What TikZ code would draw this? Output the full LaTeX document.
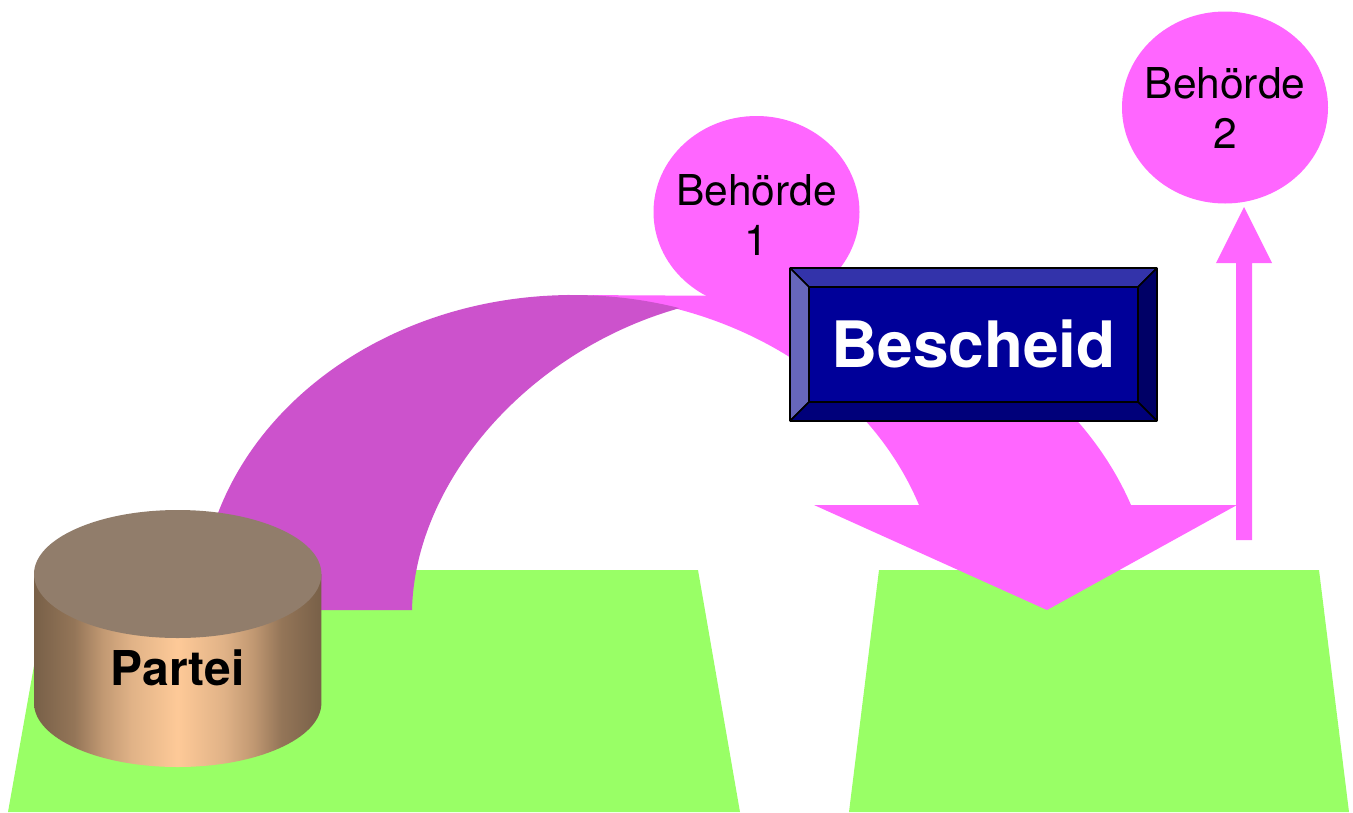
\documentclass[tikz,border=0pt]{standalone}
\usepackage{fontspec}
\setmainfont{TeX Gyre Heros}
\usetikzlibrary{shapes.geometric}
\definecolor{pinkf}{HTML}{FF66FF}
\definecolor{greenf}{HTML}{99FF66}
\definecolor{purplef}{HTML}{CC52CC}
\definecolor{boxmain}{HTML}{000099}
\definecolor{boxtop}{HTML}{3333AA}
\definecolor{boxleft}{HTML}{6666BB}
\definecolor{boxright}{HTML}{000066}
\definecolor{boxbottom}{HTML}{00007A}
\definecolor{cyltop}{HTML}{917D6B}
\pgfdeclarehorizontalshading{cylshade}{100bp}{
  rgb(0bp)=(0.47,0.376,0.282);
  rgb(25bp)=(0.47,0.376,0.282);
  rgb(32bp)=(0.58,0.46,0.345);
  rgb(37bp)=(0.76,0.60,0.45);
  rgb(42bp)=(0.88,0.70,0.53);
  rgb(50bp)=(0.995,0.79,0.595);
  rgb(58bp)=(0.88,0.70,0.53);
  rgb(63bp)=(0.76,0.60,0.45);
  rgb(68bp)=(0.58,0.46,0.345);
  rgb(75bp)=(0.47,0.376,0.282);
  rgb(100bp)=(0.47,0.376,0.282)}
\tikzset{
  ground/.style={fill=greenf,draw=none},
  flow/.style={fill=pinkf,draw=none},
  authority/.style={ellipse,fill=pinkf,draw=none,inner sep=0pt,minimum width=206pt,minimum height=192pt},
  authoritytext/.style={align=center,inner sep=0pt,font=\fontsize{42.5}{50}\selectfont},
  bevel/.style={draw=black,line width=1.6pt,line join=bevel},
}
\begin{document}
\begin{tikzpicture}[x=1pt,y=-1pt]
\useasboundingbox (0,0) rectangle (1353,812);
% ground
\fill[ground] (51,570) -- (698,570) -- (740,812) -- (8,812) -- cycle;
\fill[ground] (879,570) -- (1319,570) -- (1349,812) -- (849,812) -- cycle;
% pink curved arrow
\fill[flow] (573,295) -- (760,296) -- (900,320) -- (1078,421.7)
  .. controls (1100,447) and (1118,475) .. (1131,505)
  -- (1237,505) -- (1047,610) -- (814,505) -- (919,505)
  arc[start angle=-19.47,end angle=-90,x radius=373,y radius=315] -- cycle;
% purple curved band
\fill[purplef] (200,610) arc[start angle=180,end angle=270,x radius=373,y radius=315]
  arc[start angle=-90,end angle=-73.4,x radius=373,y radius=315]
  .. controls (530,350) and (415,480) .. (412,610) -- cycle;
% authorities
\node[authority] (b1) at (756.5,212) {};
\node[authoritytext,yshift=-3pt] (b1text) at (b1.center) {Behörde\\1};
\node[authority] (b2) at (1225,107.5) {};
\node[authoritytext,yshift=-1pt] (b2text) at (b2.center) {Behörde\\2};
% thin arrow
\fill[flow] (1236,540) -- (1236,263) -- (1216,263) -- (1244,207) -- (1272,263) -- (1252,263) -- (1252,540) -- cycle;
% Bescheid box
\fill[boxmain] (790,268) rectangle (1157,421);
\filldraw[bevel,fill=boxtop] (790,268) -- (1157,268) -- (1138,287) -- (809,287) -- cycle;
\filldraw[bevel,fill=boxleft] (790,268) -- (809,287) -- (809,402) -- (790,421) -- cycle;
\filldraw[bevel,fill=boxright] (1157,268) -- (1138,287) -- (1138,402) -- (1157,421) -- cycle;
\filldraw[bevel,fill=boxbottom] (790,421) -- (809,402) -- (1138,402) -- (1157,421) -- cycle;
\node[anchor=base,text=white,inner sep=0pt,font=\fontsize{64}{70}\selectfont\bfseries] (bescheid) at (973.5,367) {Bescheid};
% cylinder
\path[shading=cylshade] (34,574) -- (34,703) arc[start angle=180,end angle=0,x radius=143.7,y radius=64] -- (321.4,574) -- cycle;
\fill[cyltop] (177.7,574) ellipse[x radius=143.7,y radius=64];
\node[anchor=base,inner sep=0pt,font=\fontsize{48}{50}\selectfont\bfseries] (partei) at (177.5,685.5) {Partei};
\end{tikzpicture}
\end{document}
